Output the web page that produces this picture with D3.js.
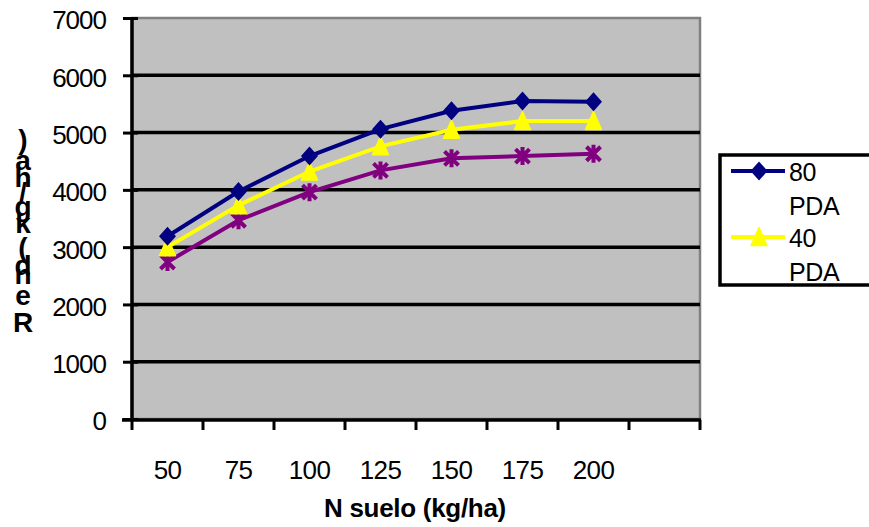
<!DOCTYPE html>
<html>
<head>
<meta charset="utf-8">
<script src="https://cdn.jsdelivr.net/npm/d3@7"></script>
<style>
  body { margin: 0; background: #fff; }
  svg { font-family: "Liberation Sans", Arial, sans-serif; }
</style>
</head>
<body>
<svg id="chart" width="869" height="527"></svg>
<script>
// chart data
const categories = ["50", "75", "100", "125", "150", "175", "200", ""];
const pda80 = [3190, 3970, 4590, 5060, 5380, 5550, 5540];
const pda40 = [3000, 3730, 4320, 4760, 5050, 5200, 5200];
const pda0 = [2740, 3470, 3960, 4340, 4550, 4590, 4630];
const yTicks = [0, 1000, 2000, 3000, 4000, 5000, 6000, 7000];
const legendLabels = ["80 PDA", "40 PDA"];

const svg = d3.select("#chart");
const plotLeft = 132, plotRight = 700, plotTop = 18, plotBottom = 419;

const x = d3.scaleBand().domain(categories).range([plotLeft, plotRight]);
const y = d3.scaleLinear().domain([0, 7000]).range([plotBottom, plotTop]);

// plot background
svg.append("rect")
  .attr("x", plotLeft).attr("y", plotTop)
  .attr("width", plotRight - plotLeft).attr("height", plotBottom - plotTop)
  .attr("fill", "#c0c0c0")
  .attr("stroke", "#808080").attr("stroke-width", 2.5);

// gridlines
svg.append("g").selectAll("line")
  .data(yTicks.filter(d => d > 0 && d < 7000))
  .enter().append("line")
    .attr("x1", plotLeft).attr("x2", plotRight)
    .attr("y1", d => y(d)).attr("y2", d => y(d))
    .attr("stroke", "#000").attr("stroke-width", 3.5);

// y axis
const yAxis = svg.append("g")
  .attr("transform", "translate(" + plotLeft + ",0)")
  .call(d3.axisLeft(y).tickValues(yTicks).tickSize(9).tickFormat(d3.format("d")));
yAxis.select(".domain").attr("stroke-width", 3.5).attr("d", "M0," + (plotTop - 1) + "V" + (plotBottom + 2));
yAxis.selectAll(".tick line").attr("x2", -9).attr("x1", 6).attr("stroke-width", 3);
yAxis.selectAll(".tick text").attr("x", -26).attr("dy", "0.42em").attr("font-size", 26)
  .attr("letter-spacing", -1).attr("fill", "#000");

// x axis
const xAxis = svg.append("g")
  .attr("transform", "translate(0," + (plotBottom + 1) + ")");
xAxis.append("line")
  .attr("x1", plotLeft - 10).attr("x2", plotRight + 1)
  .attr("stroke", "#000").attr("stroke-width", 3.5);
xAxis.selectAll(".xt")
  .data(categories.map(c => x(c)).concat([plotRight]))
  .enter().append("line")
    .attr("x1", d => d).attr("x2", d => d)
    .attr("y1", 0).attr("y2", 10)
    .attr("stroke", "#000").attr("stroke-width", 3);
xAxis.selectAll(".xl")
  .data(categories)
  .enter().append("text")
    .attr("x", d => x(d) + x.bandwidth() / 2)
    .attr("y", 59)
    .attr("text-anchor", "middle")
    .attr("font-size", 26).attr("letter-spacing", -0.6)
    .text(d => d);

// axis titles
svg.append("text")
  .attr("x", 415).attr("y", 517)
  .attr("text-anchor", "middle")
  .attr("font-size", 26).attr("font-weight", "bold").attr("letter-spacing", -0.3)
  .text("N suelo (kg/ha)");

// y title: upright letters stacked bottom to top, as in the reference
const yTitle = "Rend (kg/ha)".split("");
const yTitleBase = [332, 305, 284, 275, 266, 257, 233, 216, 202, 187, 170, 149];
svg.append("text")
  .attr("text-anchor", "middle")
  .attr("font-size", 28).attr("font-weight", "bold")
  .selectAll("tspan")
  .data(yTitle)
  .enter().append("tspan")
    .attr("x", 23)
    .attr("y", (d, i) => yTitleBase[i])
    .text(d => d);

// series
const line = d3.line()
  .x((d, i) => x(categories[i]) + x.bandwidth() / 2)
  .y(d => y(d));

function drawSeries(values, color, marker) {
  svg.append("path")
    .datum(values)
    .attr("d", line)
    .attr("fill", "none")
    .attr("stroke", color).attr("stroke-width", 4);
  const g = svg.append("g").selectAll("g")
    .data(values)
    .enter().append("g")
      .attr("transform", (d, i) => "translate(" + (x(categories[i]) + x.bandwidth() / 2) + "," + y(d) + ")");
  marker(g, color);
}

function diamond(g, color) {
  g.append("path").attr("d", "M0,-9.5L8.5,0L0,9.5L-8.5,0Z").attr("fill", color);
}
function triangle(g, color) {
  g.append("path").attr("d", "M0,-9.5L8,8.5L-8,8.5Z").attr("fill", color)
    .attr("stroke", color).attr("stroke-width", 1.5).attr("stroke-linejoin", "round");
}
function asterisk(g, color) {
  g.append("path").attr("d", "M-7,-7L7,7M-7,7L7,-7M0,-9V9")
    .attr("stroke", color).attr("stroke-width", 4).attr("fill", "none");
}

drawSeries(pda0, "#800080", asterisk);
drawSeries(pda40, "#ffff00", triangle);
drawSeries(pda80, "#000080", diamond);

// legend
const legend = svg.append("g");
legend.append("rect")
  .attr("x", 720).attr("y", 155)
  .attr("width", 160).attr("height", 130)
  .attr("fill", "#fff").attr("stroke", "#000").attr("stroke-width", 3.5);

const legendItems = [
  { label: legendLabels[0], color: "#000080", marker: diamond, y: 171 },
  { label: legendLabels[1], color: "#ffff00", marker: triangle, y: 237 }
];
legendItems.forEach(item => {
  legend.append("line")
    .attr("x1", 731).attr("x2", 785)
    .attr("y1", item.y).attr("y2", item.y)
    .attr("stroke", item.color).attr("stroke-width", 4);
  const m = legend.append("g").attr("transform", "translate(759," + item.y + ")");
  item.marker(m, item.color);
  const parts = item.label.split(" ");
  const t = legend.append("text")
    .attr("font-size", 25).attr("letter-spacing", -0.4);
  t.append("tspan").attr("x", 789).attr("y", item.y + 10).text(parts[0]);
  t.append("tspan").attr("x", 789).attr("y", item.y + 44).text(parts[1]);
});
</script>
</body>
</html>
